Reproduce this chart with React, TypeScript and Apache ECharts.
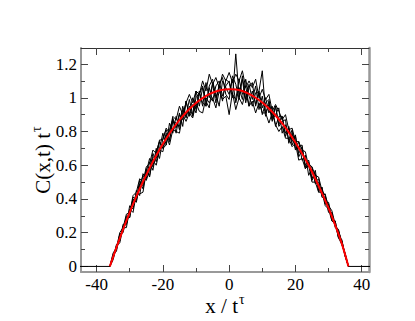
import React, { useEffect, useRef } from "react";
import * as echarts from "echarts";

// x positions of the noisy curves (step 1 from -36 to 36)
const xNoisy: number[] = [];
for (let i = -36; i <= 36; i++) xNoisy.push(i);

const curveA = [0, 0.07, 0.09, 0.19, 0.21, 0.30, 0.29, 0.41, 0.40, 0.51, 0.46, 0.56, 0.64, 0.59, 0.70, 0.64, 0.76, 0.81, 0.75, 0.88, 0.82, 0.91, 0.83, 0.98, 0.90, 1.00, 0.93, 1.04, 0.95, 1.09, 1.00, 1.08, 0.97, 1.08, 1.12, 1.02, 0.99, 1.13, 1.08, 0.99, 1.13, 0.99, 1.08, 0.99, 1.07, 0.93, 1.01, 0.89, 0.98, 0.88, 0.95, 0.83, 0.86, 0.87, 0.73, 0.79, 0.69, 0.74, 0.63, 0.66, 0.54, 0.58, 0.50, 0.52, 0.41, 0.41, 0.32, 0.32, 0.23, 0.22, 0.13, 0.08, 0];
const curveB = [0, 0.05, 0.13, 0.15, 0.25, 0.25, 0.36, 0.34, 0.45, 0.42, 0.55, 0.52, 0.62, 0.57, 0.68, 0.74, 0.70, 0.72, 0.85, 0.79, 0.89, 0.81, 0.93, 0.89, 0.99, 0.90, 1.04, 0.95, 1.06, 0.95, 1.07, 1.11, 1.00, 1.07, 0.98, 1.11, 1.09, 1.00, 1.26, 1.01, 1.11, 0.97, 1.06, 1.09, 0.95, 1.04, 1.16, 0.91, 0.96, 0.86, 0.95, 0.84, 0.89, 0.77, 0.83, 0.74, 0.78, 0.65, 0.69, 0.60, 0.63, 0.51, 0.55, 0.45, 0.47, 0.37, 0.37, 0.27, 0.27, 0.17, 0.16, 0.06, 0];
const curveC = [0, 0.04, 0.12, 0.14, 0.23, 0.23, 0.34, 0.32, 0.43, 0.43, 0.44, 0.56, 0.54, 0.63, 0.60, 0.69, 0.68, 0.78, 0.72, 0.81, 0.80, 0.79, 0.90, 0.86, 0.91, 0.88, 0.97, 0.92, 0.91, 1.00, 0.97, 1.00, 0.94, 1.04, 0.99, 1.01, 0.90, 1.03, 0.93, 1.00, 0.96, 1.04, 0.95, 0.98, 0.91, 0.97, 0.91, 0.91, 0.85, 0.91, 0.84, 0.80, 0.83, 0.76, 0.76, 0.71, 0.73, 0.63, 0.64, 0.58, 0.60, 0.50, 0.50, 0.44, 0.44, 0.36, 0.34, 0.27, 0.25, 0.17, 0.13, 0.07, 0];
const curveD = [0, 0.08, 0.11, 0.20, 0.23, 0.31, 0.32, 0.42, 0.44, 0.52, 0.50, 0.59, 0.61, 0.69, 0.67, 0.75, 0.75, 0.82, 0.79, 0.89, 0.87, 0.95, 0.90, 0.97, 1.02, 0.97, 1.04, 1.02, 1.10, 1.04, 1.14, 1.08, 1.12, 1.06, 1.14, 1.10, 1.15, 1.09, 1.14, 1.10, 1.16, 1.06, 1.10, 1.06, 1.11, 1.00, 1.05, 0.99, 1.02, 0.92, 0.96, 0.92, 0.87, 0.90, 0.81, 0.82, 0.74, 0.74, 0.69, 0.68, 0.59, 0.59, 0.54, 0.53, 0.45, 0.42, 0.36, 0.33, 0.25, 0.21, 0.15, 0.07, 0];
const curveE = [0, 0.05, 0.12, 0.16, 0.24, 0.25, 0.33, 0.39, 0.39, 0.49, 0.48, 0.58, 0.53, 0.65, 0.64, 0.74, 0.70, 0.79, 0.74, 0.86, 0.85, 0.83, 0.95, 0.88, 0.95, 0.89, 1.00, 1.03, 0.97, 0.95, 1.06, 0.98, 1.07, 1.10, 1.01, 1.07, 1.10, 1.02, 0.99, 1.11, 1.02, 1.07, 0.95, 1.04, 0.96, 1.04, 0.94, 1.00, 0.91, 0.95, 0.83, 0.89, 0.89, 0.79, 0.82, 0.72, 0.77, 0.67, 0.71, 0.59, 0.61, 0.59, 0.49, 0.50, 0.42, 0.43, 0.33, 0.31, 0.24, 0.21, 0.14, 0.06, 0];
const curveF = [0, 0.06, 0.10, 0.19, 0.20, 0.29, 0.29, 0.40, 0.38, 0.48, 0.54, 0.51, 0.57, 0.67, 0.62, 0.70, 0.79, 0.72, 0.81, 0.87, 0.79, 0.90, 0.87, 0.98, 0.89, 0.96, 0.91, 1.02, 1.07, 0.98, 0.94, 1.09, 1.02, 0.95, 1.10, 1.06, 1.02, 1.11, 0.97, 1.06, 0.99, 1.11, 1.01, 0.95, 1.03, 1.03, 0.90, 0.97, 0.99, 0.87, 0.90, 0.94, 0.79, 0.84, 0.75, 0.81, 0.70, 0.71, 0.72, 0.58, 0.62, 0.52, 0.57, 0.44, 0.47, 0.37, 0.38, 0.28, 0.27, 0.17, 0.15, 0.07, 0];

// red fit curve (step 2 from -36 to 36)
const xFit = [-36, -34, -32, -30, -28, -26, -24, -22, -20, -18, -16, -14, -12, -10, -8, -6, -4, -2, 0, 2, 4, 6, 8, 10, 12, 14, 16, 18, 20, 22, 24, 26, 28, 30, 32, 34, 36];
const fitValues = [0, 0.113, 0.22, 0.321, 0.415, 0.502, 0.583, 0.658, 0.726, 0.788, 0.843, 0.891, 0.933, 0.969, 0.998, 1.021, 1.037, 1.047, 1.05, 1.049, 1.04, 1.023, 1.0, 0.972, 0.936, 0.895, 0.848, 0.795, 0.735, 0.67, 0.6, 0.52, 0.435, 0.345, 0.245, 0.135, 0];

// flat zero parts outside the support
const baseLeft = [[-46, 0], [-36, 0]];
const baseRight = [[36, 0], [44, 0]];

const xMajor = [-40, -20, 0, 20, 40];
const xMinor = [-30, -10, 10, 30];
const yMajor = [0, 0.2, 0.4, 0.6, 0.8, 1, 1.2];
const yMinor = [0.1, 0.3, 0.5, 0.7, 0.9, 1.1];

const X_MIN = -44.7;
const X_MAX = 42.2;
const Y_MIN = -0.033;
const Y_MAX = 1.295;

const FONT = "Liberation Serif";

export default function App() {
  const ref = useRef<HTMLDivElement>(null);
  useEffect(() => {
    if (!ref.current) return;
    const chart = echarts.init(ref.current, undefined, { renderer: "svg" });
    const zip = (xs: number[], ys: number[]) => xs.map((x, i) => [x, ys[i]]);
    const tickColor = "#444";
    const mkX = (position: string, values: number[], len: number, opts: any = {}) => ({
      type: "value",
      min: X_MIN,
      max: X_MAX,
      position,
      splitLine: { show: false },
      axisLine: { show: false, onZero: false },
      axisTick: { show: true, inside: true, length: len, customValues: values, lineStyle: { color: tickColor, width: 1 } },
      axisLabel: { show: false },
      ...opts,
    });
    const mkY = (position: string, values: number[], len: number, opts: any = {}) => ({
      type: "value",
      min: Y_MIN,
      max: Y_MAX,
      position,
      splitLine: { show: false },
      axisLine: { show: false, onZero: false },
      axisTick: { show: true, inside: true, length: len, customValues: values, lineStyle: { color: tickColor, width: 1 } },
      axisLabel: { show: false },
      ...opts,
    });
    const titleRich = {
      a: { fontFamily: FONT, fontSize: 21, color: "#000" },
      s: { fontFamily: FONT, fontSize: 14, color: "#000", verticalAlign: "top", padding: [0, 0, 14, 1] },
    };
    const noisy = [curveA, curveB, curveC, curveD, curveE, curveF];
    chart.setOption({
      animation: false,
      backgroundColor: "#fff",
      textStyle: { fontFamily: FONT },
      grid: { left: 81, right: 46, top: 48, bottom: 49, containLabel: false, outerBoundsMode: "none" },
      xAxis: [
        mkX("bottom", xMajor, 7, {
          axisLine: { show: true, onZero: false, lineStyle: { color: "#999", width: 2 } },
          axisLabel: {
            show: true,
            customValues: xMajor,
            margin: 4,
            fontFamily: FONT,
            fontSize: 17,
            color: "#000",
          },
          name: "{a|x / t}{s|τ}",
          nameLocation: "middle",
          nameGap: 20,
          nameMoveOverlap: false,
          nameTextStyle: { fontFamily: FONT, fontSize: 21, rich: titleRich },
        }),
        mkX("bottom", xMinor, 4),
        mkX("top", xMajor, 7, { axisLine: { show: true, onZero: false, lineStyle: { color: "#333", width: 1 } } }),
        mkX("top", xMinor, 4),
      ],
      yAxis: [
        mkY("left", yMajor, 7, {
          axisLine: { show: true, onZero: false, lineStyle: { color: "#999", width: 2 } },
          axisLabel: {
            show: true,
            customValues: yMajor,
            margin: 4,
            fontFamily: FONT,
            fontSize: 17,
            color: "#000",
            formatter: (v: number) => String(Math.round(v * 10) / 10),
          },
          name: "{a|C(x,t) t}{s|τ}",
          nameLocation: "middle",
          nameRotate: 90,
          nameGap: 24,
          nameMoveOverlap: false,
          nameTextStyle: { fontFamily: FONT, fontSize: 21, rich: titleRich },
        }),
        mkY("left", yMinor, 4),
        mkY("right", yMajor, 7, { axisLine: { show: true, onZero: false, lineStyle: { color: "#999", width: 2.5 } } }),
        mkY("right", yMinor, 4),
      ],
      series: [
        {
          type: "line",
          data: baseLeft,
          symbol: "none",
          lineStyle: { color: "#000", width: 1 },
          silent: true,
        },
        {
          type: "line",
          data: baseRight,
          symbol: "none",
          lineStyle: { color: "#000", width: 1 },
          silent: true,
        },
        ...noisy.map((c) => ({
          type: "line",
          data: zip(xNoisy, c),
          symbol: "none",
          lineStyle: { color: "#000", width: 1 },
          silent: true,
        })),
        {
          type: "line",
          data: zip(xFit, fitValues),
          symbol: "none",
          smooth: 0.3,
          lineStyle: { color: "#ff0000", width: 2 },
          silent: true,
          z: 5,
        },
      ],
    });
    return () => chart.dispose();
  }, []);
  return (
    <div
      ref={ref}
      style={{ position: "fixed", left: 0, top: 0, width: 415, height: 321, background: "#fff" }}
    />
  );
}
